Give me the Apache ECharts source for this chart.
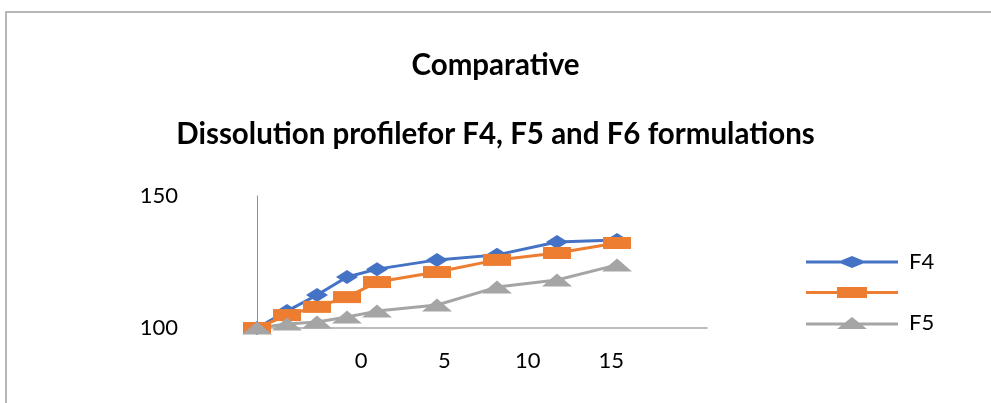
<!DOCTYPE html>
<html>
<head>
<meta charset="utf-8">
<script src="https://cdn.jsdelivr.net/npm/echarts@6/dist/echarts.min.js"></script>
<style>html,body{margin:0;padding:0;background:#fff}#c{width:991px;height:403px}</style>
</head>
<body>
<div id="c"></div>
<script>
var titleText = 'Comparative';
var subtitleText = 'Dissolution profilefor F4, F5 and F6 formulations';
var timePoints = [0, 5, 10, 15, 20, 30, 40, 50, 60];
var seriesNames = ['F4', ' ', 'F5'];
var f4Values = [100, 106.4, 112.5, 119.3, 122.3, 125.8, 127.7, 132.6, 133.3];
var orangeValues = [100, 104.9, 108.0, 111.7, 117.4, 121.2, 125.8, 128.4, 132.2];
var f5Values = [100, 101.5, 102.3, 104.2, 106.4, 108.7, 115.5, 118.2, 123.9];
var xTickLabels = [0, 5, 10, 15];
var yTickLabels = [100, 150];

function pairs(xs, ys) { return xs.map(function (x, i) { return [x, ys[i]]; }); }

var legendIcons = [
  'path://M0,5.5H35L46,1L57,5.5H92V8.5H57L46,13L35,8.5H0Z',
  'path://M0,5.5H31V1.5H61V5.5H92V8.5H61V12.5H31V8.5H0Z',
  'path://M0,5.5H39.1L46,0L52.9,5.5H92V8.5H56.6L61,12H31L35.4,8.5H0Z'
];

var font = 'Lato, "Open Sans", sans-serif';
var chart = echarts.init(document.getElementById('c'));
chart.setOption({
  animation: false,
  backgroundColor: '#fff',
  graphic: [{
    type: 'rect', silent: true,
    shape: { x: 6, y: 12, width: 1200, height: 600 },
    style: { fill: 'none', stroke: '#a0a0a0', lineWidth: 1.5 }
  }],
  title: [
    { text: titleText, left: 'center', top: 45, textStyle: { fontFamily: font, fontWeight: 'bold', fontSize: 29.5, color: '#000' } },
    { text: subtitleText, left: 'center', top: 114, textStyle: { fontFamily: font, fontWeight: 'bold', fontSize: 29.5, color: '#000' } }
  ],
  legend: {
    data: seriesNames.map(function (n, i) { return { name: n, icon: legendIcons[i] }; }),
    orient: 'vertical',
    left: 806, top: 251,
    itemWidth: 92, itemHeight: 14, itemGap: 8.5,
    padding: 0,
    textStyle: { fontFamily: font, fontSize: 22, color: '#000', padding: [0, 0, 0, 6] }
  },
  grid: { left: 257, top: 196, width: 450, height: 132 },
  xAxis: [{
    type: 'value', min: 0, max: 75,
    axisLine: { show: true, lineStyle: { color: '#a6a6a6', width: 1.5 } },
    axisTick: { show: false }, axisLabel: { show: false }, splitLine: { show: false }
  }, {
    type: 'value', min: -6.25, max: 20.75, interval: 1.25, position: 'bottom',
    axisLine: { show: false }, axisTick: { show: false }, splitLine: { show: false },
    axisLabel: {
      margin: 22, fontFamily: font, fontSize: 22, color: '#000',
      showMinLabel: true, showMaxLabel: false,
      formatter: function (v) { return xTickLabels.indexOf(v) >= 0 ? String(v) : ''; }
    }
  }],
  yAxis: {
    type: 'value', min: yTickLabels[0], max: yTickLabels[1], interval: 50,
    axisLine: { show: true, lineStyle: { color: '#909090', width: 1 } },
    axisTick: { show: false }, splitLine: { show: false },
    axisLabel: { margin: 79, fontFamily: font, fontSize: 22, color: '#000' }
  },
  series: [
    { name: seriesNames[0], type: 'line', xAxisIndex: 0, data: pairs(timePoints, f4Values),
      symbol: 'diamond', symbolSize: [22, 14], showAllSymbol: true,
      lineStyle: { color: '#4472C4', width: 3 }, itemStyle: { color: '#4472C4' } },
    { name: seriesNames[1], type: 'line', xAxisIndex: 0, data: pairs(timePoints, orangeValues),
      symbol: 'rect', symbolSize: [28, 12], showAllSymbol: true,
      lineStyle: { color: '#ED7D31', width: 3 }, itemStyle: { color: '#ED7D31' } },
    { name: seriesNames[2], type: 'line', xAxisIndex: 0, data: pairs(timePoints, f5Values),
      symbol: 'triangle', symbolSize: [30, 13], showAllSymbol: true,
      lineStyle: { color: '#A5A5A5', width: 3 }, itemStyle: { color: '#A5A5A5' } }
  ]
});
</script>
</body>
</html>
